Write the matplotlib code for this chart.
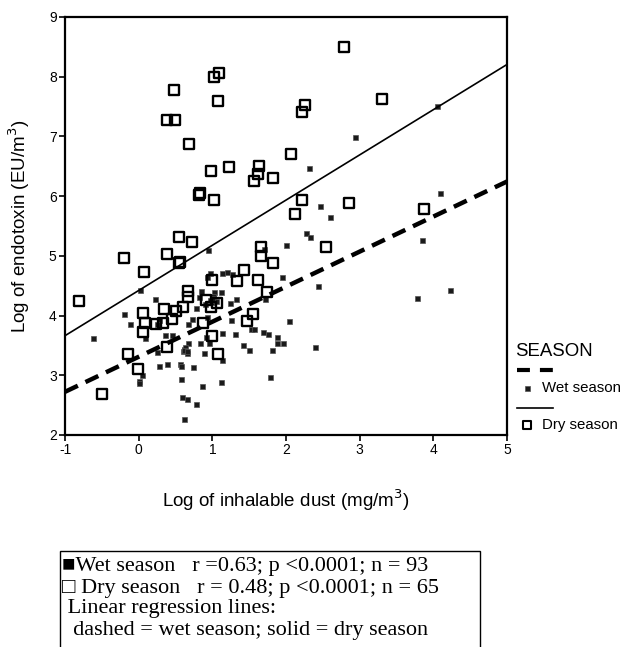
import matplotlib
matplotlib.use("Agg")
import matplotlib.pyplot as plt
from matplotlib.lines import Line2D
from matplotlib.markers import MarkerStyle
from matplotlib.patches import Rectangle
import numpy as np

# Wet season (log dust, log endotoxin)
wet_x = [4.05, 2.94, 2.31, 4.09, 2.46, 2.60, 2.27, 2.33, 2.00, 3.85,
         1.95, 2.43, 4.23, 3.78, 2.04, 1.88, 1.88, 1.96, 1.81, 2.39,
         1.78, 0.94, 0.02, -0.62, -0.20, -0.12, 0.22, 0.09, 0.28, 0.25,
         0.36, 0.45, 0.25, 0.28, 0.38, 0.56, 0.58, 0.05, 0.01, 0.01,
         0.57, 0.59, 0.65, 0.62, 0.78, 0.86, 0.74, 0.62, 0.65, 0.67,
         0.67, 0.78, 0.82, 0.85, 0.93, 0.92, 0.89, 0.95, 0.97, 0.93,
         1.02, 1.01, 0.99, 1.12, 1.13, 1.20, 1.27, 1.24, 1.32, 1.25,
         1.13, 1.13, 1.12, 1.31, 1.42, 1.50, 1.53, 1.57, 1.69, 1.76,
         1.71, 1.70, 0.83, 0.60, 0.63, 1.05, 0.90, 0.72, 0.62, 0.65,
         1.01, 0.97, 0.99]
wet_y = [7.51, 6.99, 6.47, 6.05, 5.84, 5.65, 5.38, 5.32, 5.18, 5.27,
         4.65, 4.50, 4.43, 4.29, 3.91, 3.64, 3.54, 3.54, 3.42, 3.47,
         2.97, 5.10, 4.43, 3.62, 4.03, 3.86, 4.28, 3.62, 3.93, 3.86,
         3.67, 3.67, 3.39, 3.16, 3.19, 3.19, 3.16, 3.00, 2.91, 2.87,
         2.94, 2.64, 2.60, 2.27, 2.52, 2.82, 3.14, 3.44, 3.37, 3.54,
         3.86, 4.13, 4.31, 4.41, 3.98, 3.64, 3.37, 3.54, 4.71, 4.65,
         4.39, 4.31, 4.23, 4.39, 4.71, 4.73, 4.70, 4.21, 4.28, 3.93,
         3.71, 3.26, 2.89, 3.69, 3.51, 3.42, 3.78, 3.78, 3.72, 3.69,
         4.28, 5.12, 3.54, 3.40, 3.47, 4.25, 4.20, 3.95, 3.42, 3.40,
         4.33, 4.26, 4.30]

# Dry season
dry_x = [2.79, 3.30, 2.26, 2.22, 2.07, 1.82, 2.22, 2.86, 2.12, 3.87,
         1.09, 1.02, 0.48, 1.08, 0.38, 0.49, 0.68, 0.98, 1.23, 1.63,
         1.62, 1.57, 0.83, 0.82, 1.02, -0.81, -0.20, 0.07, 0.38, 0.55,
         0.72, 0.55, 0.56, 0.06, 0.09, 0.06, 0.24, 0.34, 0.33, 0.45,
         0.51, 0.60, 0.67, 0.67, -0.14, -0.01, -0.50, 0.38, 1.00, 0.91,
         0.98, 1.06, 0.87, 1.00, 1.08, 1.33, 1.43, 1.62, 1.66, 1.66,
         1.82, 1.74, 1.55, 1.47, 2.54]
dry_y = [8.50, 7.63, 7.53, 7.41, 6.71, 6.30, 5.94, 5.89, 5.70, 5.78,
         8.06, 8.00, 7.78, 7.59, 7.28, 7.28, 6.87, 6.42, 6.49, 6.51,
         6.37, 6.25, 6.05, 6.02, 5.93, 4.24, 4.96, 4.73, 5.03, 5.32,
         5.23, 4.88, 4.89, 4.04, 3.88, 3.72, 3.86, 4.11, 3.88, 3.94,
         4.08, 4.14, 4.41, 4.31, 3.36, 3.11, 2.69, 3.47, 4.60, 4.26,
         4.14, 4.21, 3.88, 3.66, 3.36, 4.58, 4.76, 4.60, 5.15, 5.00,
         4.88, 4.40, 4.03, 3.91, 5.15]

# regression lines: (intercept, slope)
wet_fit = (3.31, 0.587)
dry_fit = (4.42, 0.757)

x_ticks = [-1, 0, 1, 2, 3, 4, 5]
y_ticks = [2, 3, 4, 5, 6, 7, 8, 9]

W, H = 623, 647
fig = plt.figure(figsize=(W / 100, H / 100), dpi=100)
plt.rcParams['font.family'] = ['Liberation Sans', 'DejaVu Sans']
plt.rcParams['axes.unicode_minus'] = False

def fx(px):
    return px / W

def fy(py):
    return 1 - py / H

ax = fig.add_axes([fx(65), fy(435), (507 - 65) / W, (435 - 17) / H])

sq_round = MarkerStyle('s', joinstyle='round')
ax.plot(wet_x, wet_y, ls='none', marker='s', ms=3.6, mfc='#1a1a1a',
        mec='#555555', mew=0.5)
ax.plot(dry_x, dry_y, ls='none', marker=sq_round, ms=7.4, mfc='none',
        mec='black', mew=1.7)

xs = np.array([-1, 5])
ax.plot(xs, dry_fit[0] + dry_fit[1] * xs, color='black', lw=1.2)
ax.plot(xs, wet_fit[0] + wet_fit[1] * xs, color='black', lw=3.2,
        dashes=(3.2, 1.9))

ax.set_xlim(-1, 5)
ax.set_ylim(2, 9)
ax.set_xticks(x_ticks)
ax.set_yticks(y_ticks)
ax.tick_params(direction='out', length=4, width=1.2, labelsize=10, pad=2)
for s in ax.spines.values():
    s.set_linewidth(1.6)

ax.set_xlabel('Log of inhalable dust (mg/m$^3$)', fontsize=13.5, labelpad=22)
ax.set_ylabel('Log of endotoxin (EU/m$^3$)', fontsize=13.5, labelpad=12)

# legend at the right
fig.text(fx(515), fy(351), 'SEASON', fontsize=13.4, va='center')
fig.add_artist(Line2D([fx(517), fx(553)], [fy(370), fy(370)], color='black',
                      lw=3, dashes=(3.1, 2.4)))
fig.add_artist(Line2D([fx(527)], [fy(388)], ls='none', marker='s', ms=3.6,
                      mfc='#1a1a1a', mec='#555555', mew=0.5))
fig.text(fx(542), fy(388), 'Wet season', fontsize=10.8, va='center')
fig.add_artist(Line2D([fx(517), fx(553)], [fy(408), fy(408)], color='black',
                      lw=1.2))
fig.add_artist(Line2D([fx(527)], [fy(425)], ls='none', marker=sq_round,
                      ms=5.5, mfc='none', mec='black', mew=1.5))
fig.text(fx(542), fy(425), 'Dry season', fontsize=10.8, va='center')

# note box under the chart
fig.add_artist(Rectangle((fx(60), fy(670)), (480 - 60) / W, (670 - 551) / H,
                         transform=fig.transFigure, fill=False,
                         edgecolor='black', lw=1.0))
serif = ['Liberation Serif', 'DejaVu Serif']
lines = ['\u25a0Wet season   r =0.63; p <0.0001; n = 93',
         '\u25a1 Dry season   r = 0.48; p <0.0001; n = 65',
         ' Linear regression lines:',
         '  dashed = wet season; solid = dry season']
for i, t in enumerate(lines):
    fig.text(fx(62), fy(567 + i * 21), t, fontsize=16, family=serif,
             va='center')

fig.savefig('out.png', dpi=100)
